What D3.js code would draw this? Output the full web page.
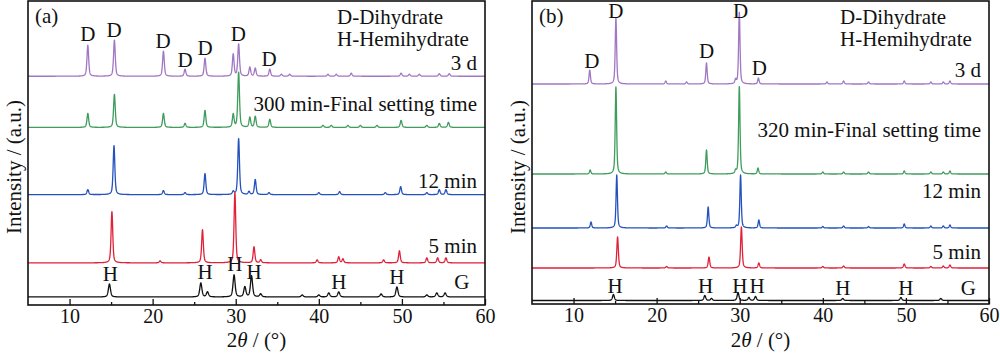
<!DOCTYPE html>
<html>
<head>
<meta charset="utf-8">
<script src="https://cdn.jsdelivr.net/npm/d3@7/dist/d3.min.js"></script>
<style>
  body { margin: 0; background: #fff; }
  svg text { font-family: "Liberation Serif", "Times New Roman", serif !important; fill: #111; }
</style>
</head>
<body>
<svg id="chart" width="1000" height="353" font-family="Liberation Serif"></svg>
<script>
// x axis
const xDomain = [5, 60];
const xTicks = [10, 20, 30, 40, 50, 60];
const xMinorTicks = [15, 25, 35, 45, 55];

// peak lists: [2theta, height in a.u.]
// panel (a)
const peaksA3d = [[12.2, 31], [15.4, 36], [21.3, 25], [23.9, 7], [26.3, 18], [29.7, 22], [30.35, 32], [31.7, 9], [32.35, 8], [34.1, 7],
  [35.5, 2], [36.5, 2], [41.1, 2], [42.1, 2], [43.9, 3], [49.9, 3], [50.9, 2], [52.1, 2], [54.5, 2.5], [55.7, 2.5]];
const peaksA300 = [[12.2, 14], [15.4, 33], [21.3, 14], [23.9, 4], [26.3, 17], [29.7, 13], [30.35, 55], [31.7, 10], [32.35, 11], [34.1, 8],
  [40.5, 2], [41.5, 2], [43.5, 2], [45, 2], [47, 2], [49.9, 7], [53, 2], [54.5, 4], [55.6, 5]];
const peaksA12 = [[12.2, 5], [15.35, 49], [21.3, 4], [23.9, 2], [26.3, 21], [29.7, 3], [30.35, 56], [31.6, 3], [32.35, 15], [34, 2],
  [40, 2], [42.5, 3], [48, 2], [49.85, 8], [53, 2], [54.5, 5], [55.3, 5]];
const peaksA5 = [[15.1, 51], [20.9, 2], [26.0, 33], [29.9, 70], [32.2, 16], [33, 3], [39.8, 3], [42.4, 6], [42.9, 4], [47.8, 3],
  [49.7, 12], [53, 5], [54.3, 5], [55.3, 5]];
const peaksAG = [[14.8, 13], [25.8, 14], [26.6, 5], [29.8, 22], [31.1, 10], [31.9, 21], [33, 3], [38, 2], [40, 2], [41.2, 4],
  [42.4, 5], [47.5, 3], [49.4, 10], [53, 2], [54.2, 4], [55.2, 4]];

// panel (b)
const peaksB3d = [[11.95, 14], [15.1, 66], [21.1, 3], [23.6, 2], [26.0, 21], [29.5, 4], [29.95, 72], [32.25, 6], [40.5, 2], [42.5, 3],
  [45.5, 2], [49.8, 3], [53, 2], [54.5, 2], [55.3, 3]];
const peaksB320 = [[12.0, 4], [15.1, 87], [21.1, 2], [26.0, 24], [29.5, 3], [29.95, 88], [32.2, 6], [40, 2], [42.5, 2], [45.5, 2],
  [49.8, 3], [53, 2], [54.5, 2], [55.3, 3]];
const peaksB12 = [[12.1, 6], [15.2, 53], [21.2, 2], [26.2, 21], [29.6, 2], [30.1, 53], [32.3, 8], [40, 1.5], [42.5, 2], [45.5, 1.5],
  [49.8, 4], [53, 2], [54.5, 2], [55.3, 3]];
const peaksB5 = [[15.3, 31], [21.2, 1.5], [26.3, 11], [30.2, 41], [32.3, 5], [40, 1.5], [42.5, 2], [49.8, 4], [53, 1.5], [54.5, 2], [55.3, 3]];
const peaksBG = [[14.8, 6], [25.8, 5], [26.6, 2], [29.8, 8], [31.1, 3], [31.9, 4], [42.4, 2], [49.4, 3], [54.2, 2]];

// vertical offsets of each pattern (a.u.)
const offsetsA = [228, 177, 110, 42, 8];
const offsetsB = [220, 130, 76, 36, 3.5];
const seriesNames = ['3 d', 'final', '12 min', '5 min', 'G'];
const seriesColors = ['#a077c2', '#3f9c5c', '#2452bd', '#e0213a', '#111111'];

// phase marks [label, 2theta, intensity]
const marksA = [['D', 12.2, 263], ['D', 15.35, 267], ['D', 21.25, 256], ['D', 23.9, 237], ['D', 26.3, 249], ['D', 30.3, 263], ['D', 34.0, 238],
  ['H', 14.9, 24], ['H', 26.3, 26], ['H', 29.9, 34], ['H', 32.2, 26], ['H', 42.4, 16], ['H', 49.4, 21], ['G', 57.2, 16]];
const marksB = [['D', 12.2, 236], ['D', 15.1, 286], ['D', 26.0, 246], ['D', 30.1, 286], ['D', 32.35, 229],
  ['H', 15.0, 11], ['H', 25.9, 11], ['H', 30.0, 11], ['H', 32.1, 11], ['H', 42.4, 9], ['H', 50.0, 9], ['G', 57.5, 9]];

const FONT = '"Liberation Serif", "Times New Roman", serif';
const svg = d3.select('#chart');

function profile(peaks, offset, hw) {
  // sum of pseudo-Voigt peaks over the 2theta range
  const pts = [];
  for (let x = xDomain[0]; x <= xDomain[1] + 1e-9; x += 0.02) {
    let y = offset;
    peaks.forEach(([p, h]) => {
      const t = (x - p) / hw;
      y += h * (0.5 / (1 + t * t) + 0.5 * Math.exp(-0.693 * t * t));
    });
    pts.push([x, y]);
  }
  return pts;
}

function label(g, txt, x, y, anchor) {
  return g.append('text')
    .attr('x', x).attr('y', y)
    .attr('text-anchor', anchor || 'start')
    .attr('font-size', 21)
    .style('font-family', FONT)
    .text(txt);
}

function drawPanel(cfg) {
  const x = d3.scaleLinear().domain(xDomain).range([cfg.left, cfg.right]);
  const y = d3.scaleLinear().domain([0, 303]).range([cfg.bottom, cfg.top]);
  const g = svg.append('g');

  const line = d3.line().x(d => x(d[0])).y(d => y(d[1]));
  cfg.peaks.forEach((pk, i) => {
    g.append('path')
      .datum(profile(pk, cfg.offsets[i], cfg.hw[i]))
      .attr('fill', 'none')
      .attr('stroke', seriesColors[i])
      .attr('stroke-width', 1.3)
      .attr('stroke-linejoin', 'round')
      .attr('d', line);
  });

  // frame
  g.append('rect')
    .attr('x', cfg.left).attr('y', cfg.top)
    .attr('width', cfg.right - cfg.left).attr('height', cfg.bottom - cfg.top)
    .attr('fill', 'none').attr('stroke', '#111').attr('stroke-width', 1.6);

  // bottom axis, ticks inward
  const axis = g.append('g').attr('transform', `translate(0,${cfg.bottom})`)
    .call(d3.axisBottom(x).tickValues(xTicks).tickSize(-6).tickPadding(4).tickFormat(d3.format('d')));
  axis.attr('font-family', null).attr('font-size', null);
  axis.select('.domain').remove();
  axis.selectAll('line').attr('stroke', '#111').attr('stroke-width', 1.3);
  axis.selectAll('text').attr('font-size', 20).attr('fill', '#111')
    .style('font-family', FONT);
  g.append('g').attr('transform', `translate(0,${cfg.bottom})`)
    .call(d3.axisBottom(x).tickValues(xMinorTicks).tickSize(-3).tickFormat(''))
    .call(a => a.select('.domain').remove())
    .selectAll('line').attr('stroke', '#111').attr('stroke-width', 1.3);

  // axis titles
  const xt = label(g, null, (cfg.left + cfg.right) / 2, 347, 'middle');
  xt.append('tspan').text('2');
  xt.append('tspan').attr('font-style', 'italic').text('θ');
  xt.append('tspan').text(' / (°)');

  label(g, 'Intensity / (a.u.)', 0, 0, 'middle')
    .attr('transform', `translate(${cfg.left - 7},167) rotate(-90)`);

  // phase marks
  cfg.marks.forEach(m => label(g, m[0], x(m[1]), y(m[2]), 'middle'));

  // panel letter and legend text
  label(g, cfg.letter, cfg.left + 7, 23);
  label(g, 'D-Dihydrate', cfg.legendX, 24);
  label(g, 'H-Hemihydrate', cfg.legendX, 46);

  // series labels, right aligned
  cfg.labels.forEach(l => label(g, l[0], cfg.right - 8, l[1], 'end'));
}

drawPanel({
  left: 28, right: 485, top: 1, bottom: 305,
  letter: '(a)', legendX: 337,
  peaks: [peaksA3d, peaksA300, peaksA12, peaksA5, peaksAG],
  hw: [0.12, 0.12, 0.12, 0.12, 0.15],
  offsets: offsetsA, marks: marksA,
  labels: [['3 d', 70], ['300 min-Final setting time', 111], ['12 min', 188], ['5 min', 253]]
});

drawPanel({
  left: 532, right: 989, top: 1, bottom: 304,
  letter: '(b)', legendX: 840,
  peaks: [peaksB3d, peaksB320, peaksB12, peaksB5, peaksBG],
  hw: [0.1, 0.1, 0.1, 0.11, 0.13],
  offsets: offsetsB, marks: marksB,
  labels: [['3 d', 77], ['320 min-Final setting time', 137], ['12 min', 198], ['5 min', 259]]
});
</script>
</body>
</html>
